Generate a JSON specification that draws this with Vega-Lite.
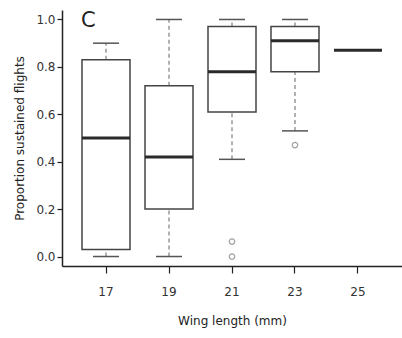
{
  "$schema": "https://vega.github.io/schema/vega-lite/v6.json",
  "width": 340,
  "height": 256,
  "autosize": {"type": "none"},
  "padding": {"left": 62, "top": 10, "right": 0, "bottom": 72},
  "background": "white",
  "config": {
    "view": {"stroke": null},
    "font": "DejaVu Sans",
    "axis": {
      "grid": false,
      "domainColor": "#222",
      "domainWidth": 1.5,
      "tickColor": "#222",
      "tickWidth": 1.2,
      "labelColor": "#333",
      "labelFont": "DejaVu Sans",
      "labelFontSize": 12,
      "titleFont": "DejaVu Sans",
      "titleFontSize": 12,
      "titleFontWeight": "normal",
      "titleColor": "#222"
    }
  },
  "title": {
    "text": "C",
    "anchor": "start",
    "frame": "group",
    "fontSize": 21,
    "fontWeight": "normal",
    "font": "DejaVu Sans",
    "color": "#222",
    "dx": 19,
    "dy": 25
  },
  "datasets": {
    "stats": [
      {"wing": 17, "lower": 0.0, "q1": 0.03, "median": 0.5, "q3": 0.83, "upper": 0.9},
      {"wing": 19, "lower": 0.0, "q1": 0.2, "median": 0.42, "q3": 0.72, "upper": 1.0},
      {"wing": 21, "lower": 0.41, "q1": 0.61, "median": 0.78, "q3": 0.97, "upper": 1.0},
      {"wing": 23, "lower": 0.53, "q1": 0.78, "median": 0.91, "q3": 0.97, "upper": 1.0},
      {"wing": 25, "lower": null, "q1": null, "median": 0.87, "q3": null, "upper": null}
    ],
    "outliers": [
      {"wing": 21, "value": 0.063},
      {"wing": 21, "value": 0.0},
      {"wing": 23, "value": 0.47}
    ]
  },
  "encoding": {
    "x": {
      "field": "wing",
      "type": "ordinal",
      "scale": {"paddingInner": 0.238, "paddingOuter": 0.3175},
      "axis": {"title": "Wing length (mm)", "labelAngle": 0, "tickSize": 7, "labelPadding": 13, "titlePadding": 18}
    }
  },
  "layer": [
    {
      "data": {"name": "stats"},
      "mark": {"type": "rule", "color": "#999", "strokeWidth": 1.5, "strokeDash": [4, 3]},
      "encoding": {
        "y": {"field": "lower", "type": "quantitative",
          "scale": {"domain": [-0.04, 1.04], "nice": false, "zero": false},
          "axis": {"title": "Proportion sustained flights", "values": [0, 0.2, 0.4, 0.6, 0.8, 1.0], "format": ".1f", "tickSize": 5, "labelPadding": 2, "titlePadding": 9}},
        "y2": {"field": "q1"}
      }
    },
    {
      "data": {"name": "stats"},
      "mark": {"type": "rule", "color": "#999", "strokeWidth": 1.5, "strokeDash": [4, 3]},
      "encoding": {
        "y": {"field": "q3", "type": "quantitative"},
        "y2": {"field": "upper"}
      }
    },
    {
      "data": {"name": "stats"},
      "mark": {"type": "tick", "color": "#555", "opacity": 1, "size": 26, "thickness": 1.5, "orient": "horizontal"},
      "encoding": {"y": {"field": "lower", "type": "quantitative"}}
    },
    {
      "data": {"name": "stats"},
      "mark": {"type": "tick", "color": "#555", "opacity": 1, "size": 26, "thickness": 1.5, "orient": "horizontal"},
      "encoding": {"y": {"field": "upper", "type": "quantitative"}}
    },
    {
      "data": {"name": "stats"},
      "mark": {"type": "bar", "fill": "white", "stroke": "#444", "strokeWidth": 1.5},
      "encoding": {
        "y": {"field": "q1", "type": "quantitative"},
        "y2": {"field": "q3"}
      }
    },
    {
      "data": {"name": "stats"},
      "mark": {"type": "tick", "color": "#2a2a2a", "opacity": 1, "size": 48, "thickness": 3, "orient": "horizontal"},
      "encoding": {"y": {"field": "median", "type": "quantitative"}}
    },
    {
      "data": {"name": "outliers"},
      "mark": {"type": "point", "shape": "circle", "filled": false, "stroke": "#777", "strokeWidth": 1.2, "size": 30},
      "encoding": {"y": {"field": "value", "type": "quantitative"}}
    }
  ]
}
